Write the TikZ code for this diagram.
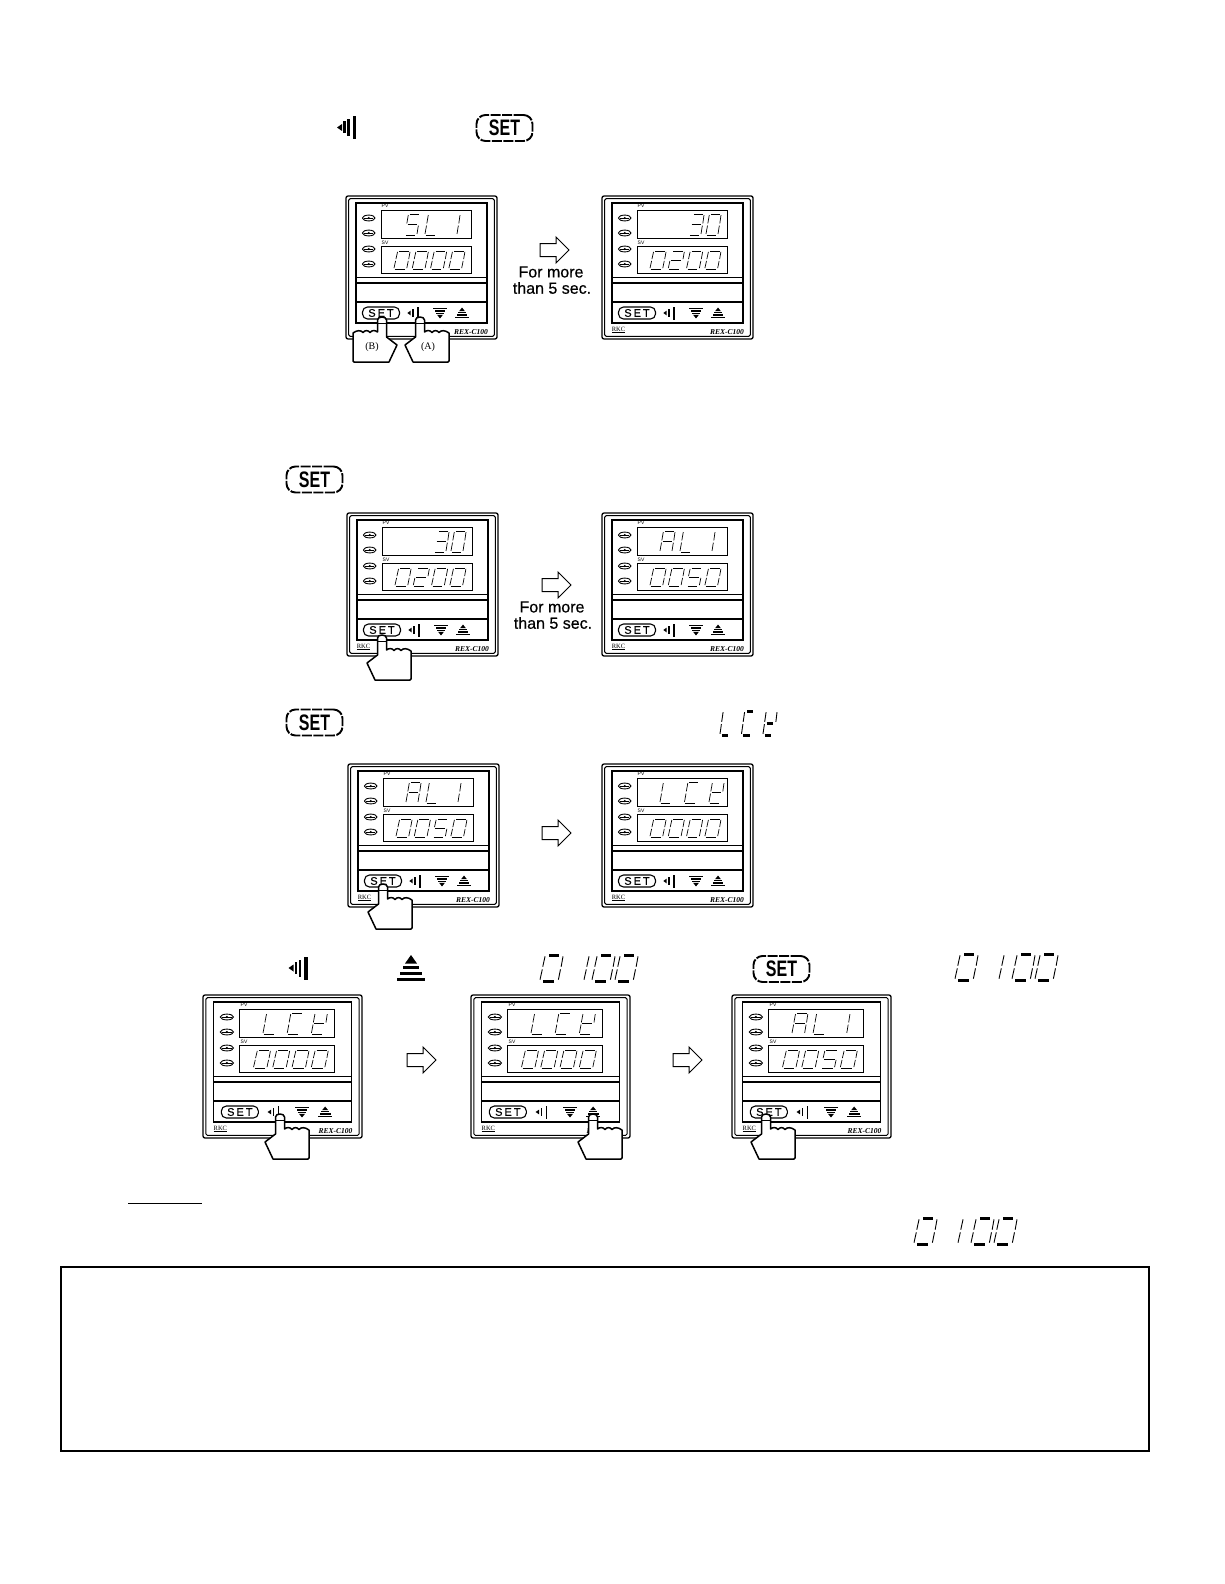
\documentclass[tikz,border=0pt]{standalone}
\usepackage{fontspec}
\setmainfont{Liberation Sans}
\newfontfamily\serifface{Liberation Serif}
\newfontfamily\heavyface[FakeBold=.5]{Liberation Sans}
\usetikzlibrary{arrows}

%% Segmente
\newcommand{\defseg}[3]{\expandafter\def\csname seg#1\endcsname{\draw[line width=#2] #3;}}
\defseg{a}{\seghwidth}{(0.32+\segtrim,0) -- (0.92-\segtrim,0)}
\defseg{b}{\segvwidth}{(1.00,0.05) -- (0.92,0.45)}
\defseg{c}{\segvwidth}{(0.89,0.55) -- (0.80,0.95)}
\defseg{d}{\seghwidth}{(0.06+\segtrim,1) -- (0.68-\segtrim,1)}
\defseg{e}{\segvwidth}{(0.10,0.55) -- (0,0.95)}
\defseg{f}{\segvwidth}{(0.22,0.05) -- (0.12,0.45)}
\defseg{g}{\seghwidth}{(0.18+\segtrim,0.5) -- (0.80-\segtrim,0.5)}

%% Zeichen
\newcommand{\defglyph}[2]{\expandafter\def\csname glyph#1\endcsname{#2}}
\defglyph{0}{a,b,c,d,e,f}
\defglyph{1}{b,c}
\defglyph{2}{a,b,g,e,d}
\defglyph{3}{a,b,g,c,d}
\defglyph{5}{a,f,g,c,d}
\defglyph{A}{a,b,c,e,f,g}
\defglyph{C}{a,d,e,f}
\defglyph{L}{d,e,f}
\defglyph{S}{a,f,g,c,d}
\defglyph{t}{b,d,e,f,g}
\defglyph{l}{e,f}

\newcommand{\seghwidth}{.7}
\newcommand{\segvwidth}{.7}
\newcommand{\segtrim}{0}
\newcommand{\segchars}[6]{%
   \foreach \ch [count=\n from 0] in {#6} {
      \begin{scope}[shift={(#1+\n*#5,#2)},xscale=#3,yscale=#4]
         \expandafter\let\expandafter\seglist\csname glyph\ch\endcsname
         \foreach \s in \seglist {\csname seg\s\endcsname}
      \end{scope}
   }}

%% Tastensymbole
\newcommand{\backicon}[3]{%
   \begin{scope}[shift={(#1,#2)},scale=#3]
      \fill (-9.5,0) -- (-4.5,-3.5) -- (-4.5,3.5) -- cycle;
      \fill (-3.5,-6) rectangle (-1,6);
      \fill (0.5,-8.5) rectangle (3,8.5);
      \fill (6,-11.5) rectangle (9.5,11.5);
   \end{scope}}
\newcommand{\smallback}[2]{%
   \begin{scope}[shift={(#1,#2)}]
      \fill (-5.7,0) -- (-2.3,-2.4) -- (-2.3,2.4) -- cycle;
      \fill (-1,-3.8) rectangle (.6,3.8);
      \fill (3.8,-6.5) rectangle (5.6,6.5);
   \end{scope}}
\newcommand{\upicon}[4]{%
   \begin{scope}[shift={(#1,#2)},xscale=#3,yscale=#4]
      \fill (0,-13) -- (-6,-4.5) -- (6,-4.5) -- cycle;
      \fill (-8,-2.5) rectangle (8,1);
      \fill (-11,3.5) rectangle (11,6.5);
      \fill (-14,9.5) rectangle (14,13);
   \end{scope}}

\newcommand{\blockarrow}[2]{%
   \begin{scope}[shift={(#1,#2)}]
      \draw[line width=1] (0,-6.5) -- (16,-6.5) -- (16,-13) -- (29,0)
         -- (16,13) -- (16,6.5) -- (0,6.5) -- cycle;
   \end{scope}}

\newcommand{\hand}[3]{%
   \begin{scope}[shift={(#1,#2)},xscale=#3]
      \draw[line width=1.5,fill=white,line join=round] (-4.5,3) .. controls (-4.5,-1) and (4.5,-1) .. (4.5,3)
         -- (4.5,15) .. controls (7,13) and (10,13) .. (12,15.5)
         .. controls (14,13) and (17,13) .. (19,15.5)
         .. controls (21,13) and (25,13) .. (29,16)
         -- (29,44) -- (28,45) -- (-7,45) -- (-15,28) -- (-4.5,20) -- cycle;
      \draw[line width=.8] (-4.5,6.5) -- (4.5,6.5);
   \end{scope}}

%% Geraet
\newcommand{\panel}[8]{%
   \begin{scope}[shift={(#2,#3)},xscale=#4]
      \draw[line width=1.3,rounded corners=2] (0,0) rectangle (151,143);
      \draw[line width=1,rounded corners=1.5] (2.7,2.7) rectangle (148.3,140.3);
      \draw[line width=1.8] (10,7) rectangle (141,127);
      \draw[line width=.8] (35,14) rectangle (125,42);
      \draw[line width=.8] (35,50) rectangle (125,77);
      \draw[line width=1] (10,81) -- (141,81);
      \draw[line width=1.6] (10,87) -- (141,87);
      \draw[line width=1.8] (10,106) -- (141,106);
      \foreach \ledy in {22,37,53,68} {
         \draw[line width=.9] (22.7,\ledy) ellipse (6.3 and 2.9);
         \draw[line width=.6] (18,\ledy) -- (27.4,\ledy);
         \fill (22.7,\ledy) circle (1.2);
      }
      \node[tinytext] (#1pv) at (39,10) {PV};
      \node[tinytext] (#1sv) at (39,47) {SV};
      \segchars{#5}{18}{15}{21}{#6}{#7}
      \segchars{48}{55}{16}{18}{18.3}{#8}
      \node[panelkey] (#1set) at (35,117) {S\kern2pt E\kern2pt T};
      \smallback{67}{117}
      \upicon{94}{117}{.47}{-.42}
      \upicon{116}{117}{.47}{.42}
      \node[rkctext] (#1rkc) at (16.5,134) {\underline{RKC}};
      \node[modeltext,anchor=east] (#1model) at (142,136) {REX-C100};
   \end{scope}}

\tikzset{
   bigseg/.code={\renewcommand{\seghwidth}{3}\renewcommand{\segvwidth}{.9}\renewcommand{\segtrim}{.08}},
   tinytext/.style={inner sep=0,font=\fontsize{5}{5}\selectfont},
   panelkey/.style={draw,line width=1.1,rounded corners=5,minimum width=37pt,minimum height=12pt,
      inner sep=0,font=\heavyface\fontsize{11}{11}\selectfont},
   rkctext/.style={inner sep=0,font=\serifface\fontsize{6.5}{6.5}\selectfont},
   modeltext/.style={inner sep=0,font=\serifface\bfseries\itshape\fontsize{7.5}{7.5}\selectfont},
   handtext/.style={inner sep=0,font=\serifface\fontsize{10}{10}\selectfont},
   steptext/.style={inner sep=0,font=\heavyface\fontsize{16}{16}\selectfont},
   setkey/.style={draw,line width=1.9,dash pattern=on 10pt off 1.5pt,rounded corners=9,
      minimum width=56pt,minimum height=26pt,inner sep=0,font=\bfseries\fontsize{16}{16}\selectfont}
}

\begin{document}
\begin{tikzpicture}[x=1pt,y=-1pt]
   \useasboundingbox (0,0) rectangle (1224,1584);

   %% Kopfzeile 1
   \backicon{346.5}{127.5}{1}
   \node[setkey] (setkeyA) at (504.5,128) {\scalebox{1}[1.4]{SET}};

   %% Zeile 1
   \panel{panelA}{346}{196}{1}{59}{20}{S,L,1}{0,0,0,0}
   \panel{panelB}{602}{196}{1}{87}{17}{3,0}{0,2,0,0}
   \fill[white] (354,325) rectangle (372,333);
   \hand{382}{317}{-1}
   \hand{420}{317}{1}
   \node[handtext] (labelB) at (372,347) {(B)};
   \node[handtext] (labelA) at (428,347) {(A)};
   \blockarrow{540}{250}
   \node[steptext] (moreA) at (551,272) {For more};
   \node[steptext] (thanA) at (552,288) {than 5 sec.};

   %% Zeile 2
   \node[setkey] (setkeyB) at (314.5,479.5) {\scalebox{1}[1.4]{SET}};
   \panel{panelC}{347}{513}{1}{87}{17}{3,0}{0,2,0,0}
   \panel{panelD}{602}{513}{1}{58}{20}{A,L,1}{0,0,5,0}
   \hand{382}{635}{1}
   \blockarrow{542}{585}
   \node[steptext] (moreB) at (552,607) {For more};
   \node[steptext] (thanB) at (553,623) {than 5 sec.};

   %% Zeile 3
   \node[setkey] (setkeyC) at (314.5,722.5) {\scalebox{1}[1.4]{SET}};
   \begin{scope}[bigseg]
      \segchars{720}{711}{14}{24}{21.5}{L,C,t}
   \end{scope}
   \panel{panelE}{348}{764}{1}{58}{20}{A,L,1}{0,0,5,0}
   \panel{panelF}{602}{764}{1}{58}{24.5}{L,C,t}{0,0,0,0}
   \hand{383}{884}{1}
   \blockarrow{542}{833}

   %% Zeile 4
   \backicon{298}{968}{1}
   \upicon{411}{968}{1}{1}
   \begin{scope}[bigseg]
      \segchars{540}{955}{23}{26}{23}{0}
      \segchars{584}{955}{23}{26}{23}{l}
      \segchars{592}{955}{23}{26}{23}{0,0}
      \segchars{955}{954}{23}{26}{23}{0}
      \segchars{999}{954}{23}{26}{23}{l}
      \segchars{1012}{954}{23}{26}{23}{0,0}
   \end{scope}
   \node[setkey] (setkeyD) at (781.5,969) {\scalebox{1}[1.4]{SET}};
   \panel{panelG}{203}{995}{1.053}{57}{23}{L,C,t}{0,0,0,0}
   \panel{panelH}{471}{995}{1.053}{57}{23}{L,C,t}{0,0,0,0}
   \panel{panelI}{732}{995}{1.053}{57}{20}{A,L,1}{0,0,5,0}
   \hand{280}{1114}{1}
   \hand{593}{1114}{1}
   \hand{766}{1114}{1}
   \blockarrow{407}{1060}
   \blockarrow{673}{1060}

   %% Unten
   \draw[line width=1] (128,1203.5) -- (202,1203.5);
   \begin{scope}[bigseg]
      \segchars{914}{1218}{23}{26}{23}{0}
      \segchars{958}{1218}{23}{26}{23}{l}
      \segchars{971}{1218}{23}{26}{23}{0,0}
   \end{scope}
   \draw[line width=2] (61,1266.5) rectangle (1149,1451);
\end{tikzpicture}
\end{document}
